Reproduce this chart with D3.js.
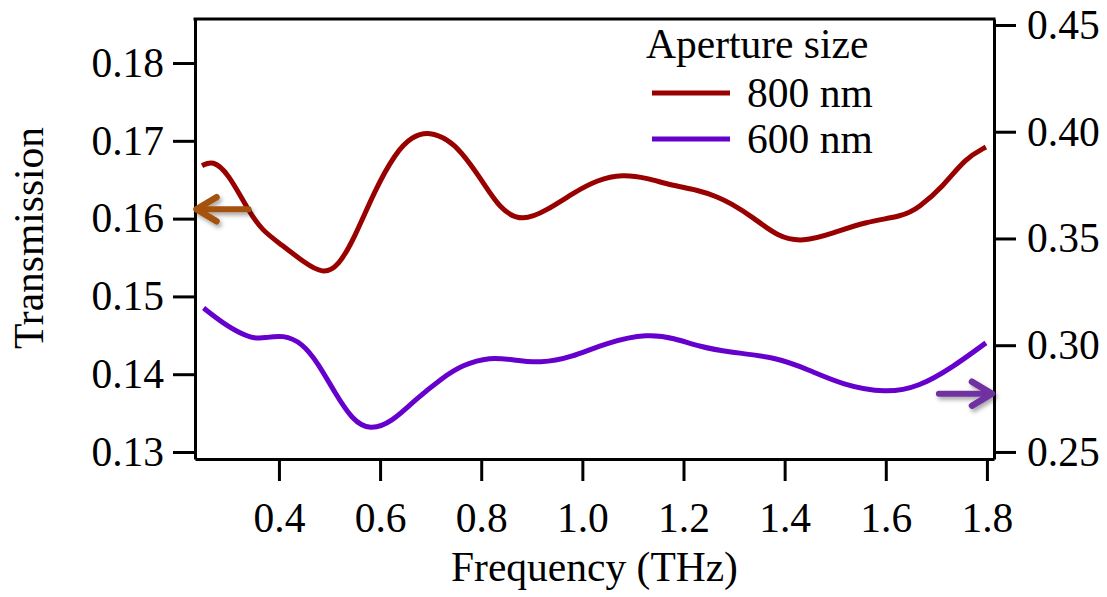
<!DOCTYPE html>
<html>
<head>
<meta charset="utf-8">
<script src="https://cdn.jsdelivr.net/npm/d3@7"></script>
<style>
  body { margin: 0; background: #fff; }
  svg text { font-family: "Liberation Serif", "Times New Roman", serif; }
</style>
</head>
<body>
<div id="chart"></div>
<script>
// frequency (THz) sampled along each trace
var freq800 = [0.248, 0.269, 0.299, 0.339, 0.366, 0.406, 0.451, 0.487, 0.517, 0.550,
               0.590, 0.630, 0.663, 0.699, 0.735, 0.758, 0.798, 0.838, 0.881, 0.931,
               0.982, 1.030, 1.079, 1.129, 1.174, 1.228, 1.267, 1.293, 1.337, 1.388,
               1.436, 1.495, 1.560, 1.634, 1.665, 1.713, 1.758, 1.798];
var trans800 = [0.1668, 0.1675, 0.1659, 0.1611, 0.1585, 0.1566, 0.1543, 0.1529, 0.1538, 0.1576,
                0.1637, 0.1684, 0.1706, 0.1712, 0.1701, 0.1688, 0.1653, 0.1611, 0.1596, 0.1611,
                0.1633, 0.1650, 0.1657, 0.1652, 0.1643, 0.1637, 0.1628, 0.1620, 0.1602, 0.1576,
                0.1570, 0.1581, 0.1596, 0.1603, 0.1614, 0.1641, 0.1678, 0.1692];

var freq600 = [0.251, 0.299, 0.347, 0.372, 0.408, 0.446, 0.477, 0.511, 0.545, 0.580,
               0.624, 0.669, 0.723, 0.762, 0.818, 0.863, 0.917, 0.976, 1.050, 1.131,
               1.180, 1.234, 1.287, 1.382, 1.448, 1.515, 1.600, 1.665, 1.733, 1.798];
var trans600 = [0.3174, 0.3085, 0.3029, 0.3034, 0.3049, 0.3011, 0.2917, 0.2776, 0.2650, 0.2601,
                0.2641, 0.2744, 0.2847, 0.2907, 0.2946, 0.2931, 0.2916, 0.2940, 0.3015, 0.3054,
                0.3034, 0.2992, 0.2968, 0.2945, 0.2884, 0.2814, 0.2775, 0.2804, 0.2898, 0.3011];

var xTicks = [0.4, 0.6, 0.8, 1.0, 1.2, 1.4, 1.6, 1.8];
var leftTicks = [0.13, 0.14, 0.15, 0.16, 0.17, 0.18];
var rightTicks = [0.25, 0.30, 0.35, 0.40, 0.45];

var legendTitle = "Aperture size";
var seriesNames = ["800 nm", "600 nm"];
var seriesColors = ["#990000", "#6600cc"];

function init() {

    var w = 1107;
    var h = 597;
    var left = 195, right = 994, top = 19, bottom = 459;
    var fs = "41.5px";

    var svg = d3.select("#chart")
                .append("svg")
                .attr("width", w)
                .attr("height", h);

    var xScale = d3.scaleLinear().domain([0.234, 1.814]).range([left, right]);
    var yLeft = d3.scaleLinear().domain([0.12910, 0.18566]).range([bottom, top]);
    var yRight = d3.scaleLinear().domain([0.2467, 0.4528]).range([bottom, top]);

    // drop shadow for the arrows
    var defs = svg.append("defs");
    defs.append("filter")
        .attr("id", "shadow")
        .attr("x", "-30%").attr("y", "-60%")
        .attr("width", "160%").attr("height", "220%")
        .append("feDropShadow")
        .attr("dx", 2).attr("dy", 3)
        .attr("stdDeviation", 2)
        .attr("flood-color", "#000")
        .attr("flood-opacity", 0.35);

    // axes
    var xAxis = d3.axisBottom(xScale).tickValues(xTicks)
                  .tickFormat(d3.format(".1f")).tickSize(22).tickSizeOuter(0).tickPadding(22);
    var lAxis = d3.axisLeft(yLeft).tickValues(leftTicks)
                  .tickFormat(d3.format(".2f")).tickSize(22).tickSizeOuter(0).tickPadding(9);
    var rAxis = d3.axisRight(yRight).tickValues(rightTicks)
                  .tickFormat(d3.format(".2f")).tickSize(22).tickSizeOuter(0).tickPadding(11);

    var gx = svg.append("g").attr("transform", "translate(0," + bottom + ")").call(xAxis);
    var gl = svg.append("g").attr("transform", "translate(" + left + ",0)").call(lAxis);
    var gr = svg.append("g").attr("transform", "translate(" + right + ",0)").call(rAxis);

    [gx, gl, gr].forEach(function(g) {
        g.selectAll("path.domain").attr("stroke", "#000").attr("stroke-width", 3);
        g.selectAll(".tick line").attr("stroke", "#000").attr("stroke-width", 3);
        g.selectAll(".tick text")
         .attr("fill", "#000")
         .style("font-size", fs)
         .style("font-family", "'Liberation Serif', 'Times New Roman', serif");
    });

    // top frame line
    svg.append("line")
       .attr("x1", left - 1.5).attr("x2", right + 1.5)
       .attr("y1", top).attr("y2", top)
       .attr("stroke", "#000").attr("stroke-width", 3);

    // curves
    var line800 = d3.line()
                    .x(function(d, i) { return xScale(freq800[i]); })
                    .y(function(d) { return yLeft(d); })
                    .curve(d3.curveBasis);
    var line600 = d3.line()
                    .x(function(d, i) { return xScale(freq600[i]); })
                    .y(function(d) { return yRight(d); })
                    .curve(d3.curveBasis);

    svg.append("path")
       .datum(trans800)
       .attr("d", line800)
       .attr("fill", "none")
       .attr("stroke", seriesColors[0])
       .attr("stroke-width", 5);

    svg.append("path")
       .datum(trans600)
       .attr("d", line600)
       .attr("fill", "none")
       .attr("stroke", seriesColors[1])
       .attr("stroke-width", 5);

    // arrows pointing to the matching axis
    function arrow(x1, x2, y, color) {
        var dir = x2 > x1 ? 1 : -1;
        var g = svg.append("g").attr("filter", "url(#shadow)");
        g.append("line")
         .attr("x1", x1).attr("x2", x2 - dir * 2)
         .attr("y1", y).attr("y2", y)
         .attr("stroke", color).attr("stroke-width", 6)
         .attr("stroke-linecap", "round");
        g.append("path")
         .attr("d", "M" + (x2 - dir * 20) + "," + (y - 12) + " L" + x2 + "," + y +
                    " L" + (x2 - dir * 20) + "," + (y + 12))
         .attr("fill", "none")
         .attr("stroke", color).attr("stroke-width", 6.5)
         .attr("stroke-linecap", "round").attr("stroke-linejoin", "round");
    }
    arrow(xScale(0.34), xScale(0.237), yLeft(0.1612), "#a3520c");
    arrow(xScale(1.705), xScale(1.81), yRight(0.2773), "#7030a0");

    // legend
    svg.append("text")
       .attr("x", 646).attr("y", 58)
       .style("font-size", fs)
       .text(legendTitle);

    seriesNames.forEach(function(name, i) {
        var yy = 93 + i * 46;
        svg.append("line")
           .attr("x1", 652).attr("x2", 730)
           .attr("y1", yy).attr("y2", yy)
           .attr("stroke", seriesColors[i]).attr("stroke-width", 5);
        svg.append("text")
           .attr("x", 747).attr("y", yy + 14)
           .style("font-size", fs)
           .text(name);
    });

    // axis titles
    svg.append("text")
       .attr("x", (left + right) / 2).attr("y", 581)
       .attr("text-anchor", "middle")
       .style("font-size", fs)
       .text("Frequency (THz)");

    svg.append("text")
       .attr("transform", "translate(43,238) rotate(-90)")
       .attr("text-anchor", "middle")
       .style("font-size", fs)
       .text("Transmission");
}

window.onload = init;
</script>
</body>
</html>
